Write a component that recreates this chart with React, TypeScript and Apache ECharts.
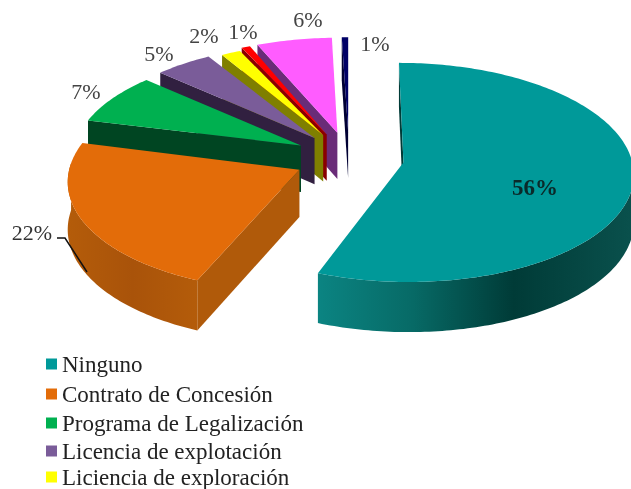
import React, { useEffect, useRef } from "react";
import * as echarts from "echarts";

const categories = ["Ninguno", "Contrato de Concesión", "Programa de Legalización", "Licencia de explotación", "Liciencia de exploración", "Otra licencia", "Otro título", "Otros"];
const values = [55.9, 23.1, 7.8, 4.5, 1.6, 0.7, 5.9, 0.5];
const percentLabels = ["56%", "22%", "7%", "5%", "2%", "1%", "6%", "1%"];
const legendCount = 5;

const topColors = ["#009999", "#E36C09", "#00B050", "#7A5C99", "#FFFF00", "#FF0000", "#FF5CFF", "#000066"];
const sideStops: [number, string][][] = [
  [[0, "#0B8482"], [0.3, "#076A66"], [0.62, "#003B37"], [1, "#0A514D"]],
  [[0, "#B45C0A"], [0.5, "#A9530A"], [1, "#B45C0A"]],
  [[0, "#004522"], [1, "#004522"]],
  [[0, "#312040"], [1, "#312040"]],
  [[0, "#7F7F00"], [1, "#7F7F00"]],
  [[0, "#8A0000"], [1, "#8A0000"]],
  [[0, "#6A2C78"], [1, "#6A2C78"]],
  [[0, "#000033"], [1, "#000044"]],
];
const startWallColors = ["#003B37", "#B05A0A", "#004522", "#312040", "#7F7F00", "#8A0000", "#6A2C78", "#000033"];
const horizontalScale = [1, 1, 1, 1, 0.95, 0.97, 1, 1];
const verticalScale = [1, 1, 0.97, 0.98, 0.97, 1, 1, 1];
const startPadDegrees = [0, 1.6, 0, 0, 0, 0, 0, 0];
const labelAnchors: [number, number, string, string][] = [
  [535, 187, "bold 23px 'Liberation Serif'", "#0A2A2A"],
  [32, 232, "22px 'Liberation Serif'", "#333333"],
  [86, 91, "22px 'Liberation Serif'", "#444444"],
  [159, 53, "22px 'Liberation Serif'", "#444444"],
  [204, 35, "22px 'Liberation Serif'", "#444444"],
  [243, 31, "22px 'Liberation Serif'", "#444444"],
  [308, 19, "22px 'Liberation Serif'", "#444444"],
  [375, 43, "22px 'Liberation Serif'", "#444444"],
];
const legendTops = [364, 394, 423, 451, 477];
const leaderPoints = [[57, 238], [65, 238], [87, 272]];

// view parameters of the exploded, tilted pie
const CX = 349, CY = 157.7, RX = 228, RY = 107.8, K = 0.09, EXPLODE = 0.242, DEPTH = 47;

const total = values.reduce((a, b) => a + b, 0);
const project = (wx: number, wv: number) => {
  const s = 1 / (1 - K * wv);
  return [CX + RX * wx * s, CY + RY * wv * s, DEPTH + 3 * wv];
};

function sliceChildren(i: number) {
  const before = values.slice(0, i).reduce((a, b) => a + b, 0);
  const a0raw = (before / total) * 360;
  const a1 = ((before + values[i]) / total) * 360;
  const mid = (((a0raw + a1) / 2) * Math.PI) / 180;
  const a0 = a0raw + startPadDegrees[i];
  const ex = Math.sin(mid) * EXPLODE;
  const ev = -Math.cos(mid) * EXPLODE;
  const rimAt = (deg: number) => {
    const t = (deg * Math.PI) / 180;
    return project(ex + Math.sin(t) * horizontalScale[i], ev - Math.cos(t) * verticalScale[i]);
  };
  const apex = project(ex, ev);
  const rim: number[][] = [];
  const n = Math.max(2, Math.ceil(a1 - a0));
  for (let k = 0; k <= n; k++) rim.push(rimAt(a0 + ((a1 - a0) * k) / n));

  const front = rim.filter((_, k) => {
    const deg = a0 + ((a1 - a0) * k) / n;
    return deg >= 88 && deg <= 274;
  });
  const children: any[] = [];
  const c0 = rim[0];
  children.push({
    type: "polygon",
    shape: { points: [[apex[0], apex[1]], [c0[0], c0[1]], [c0[0], c0[1] + c0[2]], [apex[0], apex[1] + apex[2]]] },
    style: { fill: startWallColors[i] },
  });
  if (front.length > 1) {
    const down = [...front].reverse().map((p) => [p[0], p[1] + p[2]]);
    children.push({
      type: "polygon",
      shape: { points: [...front.map((p) => [p[0], p[1]]), ...down] },
      style: {
        fill: new echarts.graphic.LinearGradient(0, 0, 1, 0, sideStops[i].map(([offset, color]) => ({ offset, color }))),
      },
    });
  }
  children.push({
    type: "polygon",
    shape: { points: [[apex[0], apex[1]], ...rim.map((p) => [p[0], p[1]])] },
    style: { fill: topColors[i] },
  });
  if (i === 1) {
    children.push({ type: "polyline", shape: { points: leaderPoints }, style: { stroke: "#111111", lineWidth: 1.5, fill: "none" } });
  }
  const [lx, ly, font, fill] = labelAnchors[i];
  children.push({
    type: "text",
    style: { text: percentLabels[i], x: lx, y: ly, font, fill, align: "center", verticalAlign: "middle" },
  });
  return children;
}

export default function App() {
  const ref = useRef<HTMLDivElement>(null);
  useEffect(() => {
    const chart = echarts.init(ref.current!, null, { renderer: "svg" });
    const order = values.map((_, i) => i).reverse();
    chart.setOption({
      animation: false,
      backgroundColor: "#ffffff",
      legend: legendTops.slice(0, legendCount).map((top, i) => ({
        data: [categories[i]],
        left: 46,
        top: top - 12,
        icon: "rect",
        itemWidth: 11,
        itemHeight: 11,
        itemGap: 0,
        padding: 0,
        selectedMode: false,
        textStyle: { fontFamily: "Liberation Serif", fontSize: 23, color: "#222222", padding: [0, 0, 0, 0], lineHeight: 24 },
      })),
      series: order.map((i) => ({
        type: "custom",
        name: categories[i],
        coordinateSystem: "none",
        silent: true,
        itemStyle: { color: topColors[i] },
        data: [values[i]],
        renderItem: () => ({ type: "group", children: sliceChildren(i) }),
      })),
    });
    return () => chart.dispose();
  }, []);
  return <div ref={ref} style={{ position: "absolute", left: 0, top: 0, width: 631, height: 489, filter: "blur(0.5px)" }} />;
}
